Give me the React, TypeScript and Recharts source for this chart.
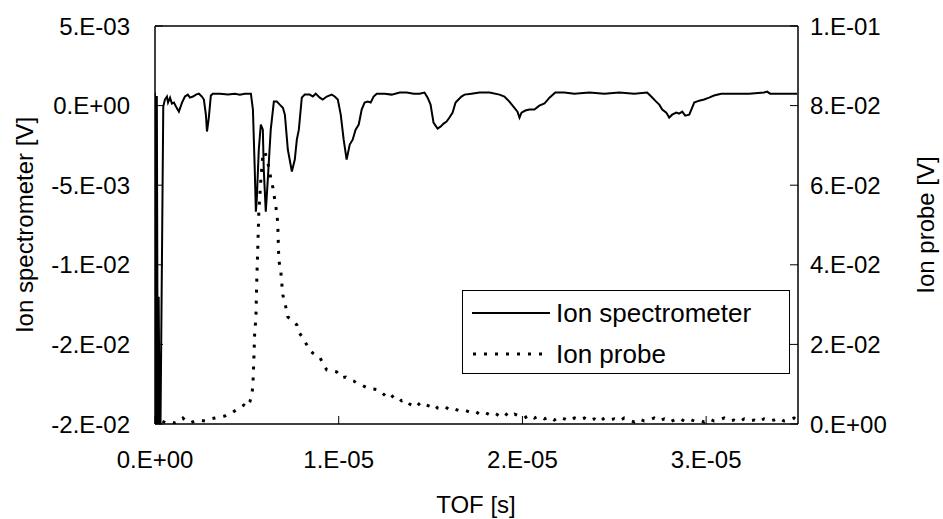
import React from 'react';
import { LineChart, Line, XAxis, YAxis, Legend, ReferenceLine } from 'recharts';

// Ion spectrometer signal: time of flight [µs] and voltage [V]
const specTimeUs = [
  0, 0.05, 0.1, 0.15, 0.2, 0.25, 0.3, 0.45, 0.54, 0.65, 0.71, 0.82, 0.92, 1.03, 1.14, 1.3, 1.47, 1.63, 1.79, 1.9, 2.07, 2.23, 2.39, 2.55,
  2.66, 2.77, 2.83, 2.93, 3.04, 3.15, 3.53, 3.97, 4.35, 4.62, 4.89, 5.22, 5.33, 5.43, 5.49, 5.54, 5.65, 5.76, 5.87, 5.92,
  6.03, 6.14, 6.3, 6.47, 6.63, 6.79, 6.96, 7.07, 7.23, 7.45, 7.61, 7.72, 7.83, 7.99, 8.15, 8.42, 8.59, 8.75, 8.97, 9.13,
  9.35, 9.62, 9.78, 9.95, 10.11, 10.27, 10.43, 10.6, 10.76, 10.92, 11.09, 11.25, 11.41, 11.58, 11.74, 11.9, 12.07, 12.5, 12.88, 13.32,
  13.7, 14.08, 14.4, 14.67, 14.84, 15.0, 15.16, 15.38, 15.54, 15.71, 15.87, 16.03, 16.2, 16.36, 16.52, 16.68, 16.85, 17.23, 17.66, 18.21,
  18.75, 19.02, 19.29, 19.51, 19.73, 19.84, 19.95, 20.16, 20.38, 20.65, 20.92, 21.2, 21.47, 21.79, 22.28, 22.83, 23.64, 24.46, 25.27, 26.09,
  26.79, 27.01, 27.28, 27.45, 27.61, 27.83, 27.99, 28.15, 28.37, 28.53, 28.7, 28.86, 29.08, 29.24, 29.35, 29.62, 29.89, 30.16, 30.43, 30.82,
  31.52, 32.34, 33.15, 33.32, 33.48, 34.24, 34.95,
];
const specVolt = [
  0.0008, -0.02, 0.0006, -0.02, -0.012, -0.02, -0.02, -0.00006, 0.00038, 0.00057, 0.00019, 0.0005, 0.00013, 0.00019, -0.00006, -0.00038, 0.00019, 0.00057, 0.00069, 0.0005, 0.00057, 0.00069, 0.00075, 0.00057,
  0.00038, -0.00057, -0.00163, -0.00075, 0.00063, 0.00075, 0.00075, 0.00069, 0.00075, 0.00069, 0.00075, 0.00075, -0.00025, -0.00402, -0.00666, -0.0059, -0.00276, -0.00119, -0.00151, -0.00402,
  -0.00666, -0.00465, -0.00151, 0.00025, 0.00025, 0.00006, -0.00013, -0.00057, -0.00276, -0.00414, -0.00339, -0.00214, -0.00151, 0.0005, 0.00069, 0.00069, 0.00057, 0.00075, 0.0005, 0.00038,
  0.00057, 0.00069, 0.00057, 0.00038, -0.00057, -0.00214, -0.00339, -0.00245, -0.00214, -0.00151, -0.00119, -0.00025, 0.00019, 0.00025, 0.00019, 0.00057, 0.00075, 0.00075, 0.00069, 0.00082,
  0.00082, 0.00075, 0.00075, 0.00082, 0.0005, 0.00006, -0.00107, -0.00144, -0.00132, -0.00113, -0.001, -0.00075, -0.00044, 0.00019, 0.00038, 0.00057, 0.00069, 0.00075, 0.00082, 0.00082,
  0.00069, 0.00057, 0.00025, -0.00006, -0.00038, -0.00075, -0.00044, -0.00031, -0.00025, -0.00025, 0.0, 0.00013, 0.0005, 0.00082, 0.00082, 0.00075, 0.00082, 0.00075, 0.00082, 0.00075,
  0.00082, 0.00057, 0.00025, 0.00006, -0.00025, -0.00044, -0.00075, -0.00057, -0.00044, -0.0005, -0.00038, -0.00063, -0.00057, -0.00013, 0.00019, 0.00031, 0.00038, 0.0005, 0.00063, 0.00075,
  0.00075, 0.00075, 0.00082, 0.00088, 0.00075, 0.00075, 0.00075,
];

// Ion probe signal: time of flight [µs] and voltage [V]
const probeTimeUs = [
  0, 0.11, 0.22, 0.38, 0.6, 0.82, 1.09, 1.36, 1.52, 1.68, 1.9, 2.17, 2.45, 2.72, 2.99, 3.26, 3.53, 3.8, 3.97, 4.18,
  4.4, 4.62, 4.84, 5.0, 5.16, 5.27, 5.33, 5.38, 5.43, 5.49, 5.54, 5.6, 5.65, 5.76, 5.87, 5.98, 6.14, 6.3, 6.41, 6.52,
  6.63, 6.68, 6.74, 6.85, 6.9, 6.96, 7.12, 7.23, 7.45, 7.72, 7.83, 8.04, 8.26, 8.42, 8.59, 8.8, 8.97, 9.18, 9.35, 9.57,
  9.89, 10.16, 10.38, 10.6, 10.82, 10.98, 11.25, 11.58, 11.9, 12.23, 12.55, 12.77, 12.99, 13.21, 13.42, 13.64, 13.86, 14.08, 14.29, 14.51,
  14.73, 14.95, 15.16, 15.38, 15.6, 15.82, 16.03, 16.3, 16.58, 16.85, 17.12, 17.39, 17.66, 17.93, 18.21, 18.48, 18.75, 19.02, 19.29, 19.57,
  19.84, 20.11, 20.38, 20.65, 20.92, 21.2, 21.47, 21.74, 22.01, 22.28, 22.55, 22.83, 23.1, 23.37, 23.64, 23.91, 24.18, 24.46, 24.73, 25.0,
  25.27, 25.54, 25.82, 26.09, 26.36, 26.63, 26.9, 27.17, 27.45, 27.72, 27.99, 28.26, 28.53, 28.8, 29.08, 29.35, 29.62, 29.89, 30.16, 30.43,
  30.71, 30.98, 31.25, 31.52, 31.79, 32.07, 32.34, 32.61, 32.88, 33.15, 33.42, 33.7, 33.97, 34.24, 34.51, 34.78, 34.95,
];
const probeVolt = [
  0.0015, 0.0035, 0.001, 0.00075, 0.00025, 0.0005, 0.00025, 0.00075, 0.0015, 0.00075, 0.00025, 0.00075, 0.001, 0.00075, 0.00126, 0.0015, 0.00176, 0.00201, 0.00251, 0.00276,
  0.0035, 0.00402, 0.00477, 0.00427, 0.00553, 0.00729, 0.0098, 0.0161, 0.0236, 0.0261, 0.0362, 0.045, 0.053, 0.0613, 0.0676, 0.0684, 0.0658, 0.0618, 0.0596, 0.0563,
  0.053, 0.0505, 0.0412, 0.0382, 0.0354, 0.0324, 0.0294, 0.0269, 0.0261, 0.0249, 0.0231, 0.0216, 0.0199, 0.0186, 0.0178, 0.0171, 0.0168, 0.0148, 0.0136, 0.0134,
  0.0131, 0.0116, 0.0118, 0.0111, 0.0108, 0.0103, 0.0098, 0.009, 0.0088, 0.0085, 0.007, 0.0063, 0.0072, 0.0068, 0.0058, 0.0061, 0.005, 0.0045, 0.0053, 0.0043,
  0.0048, 0.0045, 0.005, 0.004, 0.0038, 0.0043, 0.0035, 0.0038, 0.0033, 0.0035, 0.003, 0.0033, 0.0025, 0.003, 0.0023, 0.0028, 0.002, 0.0028, 0.0018, 0.0025,
  0.002, 0.0015, 0.0023, 0.0015, 0.002, 0.0013, 0.0018, 0.001, 0.0018, 0.0013, 0.00075, 0.0015, 0.001, 0.0015, 0.00075, 0.0013, 0.0005, 0.0015, 0.001, 0.0013,
  0.00075, 0.0015, 0.001, 0.0005, 0.0013, 0.00075, 0.001, 0.0015, 0.00075, 0.0013, 0.0005, 0.001, 0.0015, 0.00075, 0.0013, 0.00075, 0.001, 0.0005, 0.0013, 0.00075,
  0.001, 0.0015, 0.00075, 0.001, 0.0005, 0.0013, 0.00075, 0.001, 0.0005, 0.0013, 0.00075, 0.001, 0.0015, 0.00075, 0.001, 0.0015, 0.001,
];

const xTicks = [0, 10, 20, 30];
const xTickLabels = ['0.E+00', '1.E-05', '2.E-05', '3.E-05'];
const leftTicks = [-0.02, -0.015, -0.01, -0.005, 0, 0.005];
const leftTickLabels = ['-2.E-02', '-2.E-02', '-1.E-02', '-5.E-03', '0.E+00', '5.E-03'];
const rightTicks = [0, 0.02, 0.04, 0.06, 0.08, 0.1];
const rightTickLabels = ['0.E+00', '2.E-02', '4.E-02', '6.E-02', '8.E-02', '1.E-01'];

const seriesNames = ['Ion spectrometer', 'Ion probe'];
const xTitle = 'TOF [s]';
const leftTitle = 'Ion spectrometer [V]';
const rightTitle = 'Ion probe [V]';

const specData = specTimeUs.map((t, i) => ({ t, v: specVolt[i] }));
const probeData = probeTimeUs.map((t, i) => ({ t, v: probeVolt[i] }));

const FONT = "'Liberation Sans', Arial, sans-serif";
const FS = 24;
const DOTS = '3 8';

const lookup = (ticks: number[], labels: string[]) => (v: number) => {
  const i = ticks.findIndex((t) => Math.abs(t - v) < 1e-9);
  return i >= 0 ? labels[i] : '';
};

const LegendBox = () => (
  <svg width={328} height={84} style={{ display: 'block' }}>
    <rect x={0.5} y={0.5} width={327} height={83} fill="#fff" stroke="#000" strokeWidth={1} />
    <line x1={10} y1={23} x2={88} y2={23} stroke="#000" strokeWidth={2} />
    <text x={94} y={23} dy="0.35em" fontFamily={FONT} fontSize={26} fill="#000">{seriesNames[0]}</text>
    <line x1={11} y1={64} x2={88} y2={64} stroke="#000" strokeWidth={3} strokeDasharray={DOTS} />
    <text x={94} y={64} dy="0.35em" fontFamily={FONT} fontSize={26} fill="#000">{seriesNames[1]}</text>
  </svg>
);

export default function App() {
  const tickStyle = { fill: '#000', fontSize: FS, fontFamily: FONT };
  return (
    <div style={{ position: 'absolute', left: 0, top: 0, width: 943, height: 519, background: '#fff' }}>
      <LineChart width={943} height={519} margin={{ top: 26, right: 0, bottom: 0, left: 0 }}>
        <XAxis
          dataKey="t"
          type="number"
          domain={[0, 35]}
          allowDataOverflow
          ticks={xTicks}
          interval={0}
          tickFormatter={lookup(xTicks, xTickLabels)}
          height={95}
          tickSize={-8}
          tickMargin={35}
          tick={tickStyle}
          axisLine={{ stroke: '#000', strokeWidth: 1.5 }}
          tickLine={{ stroke: '#000', strokeWidth: 1 }}
          label={{
            content: () => (
              <text x={476} y={513} textAnchor="middle" fontFamily={FONT} fontSize={FS} fill="#000">{xTitle}</text>
            ),
          }}
        />
        <YAxis
          yAxisId="left"
          type="number"
          domain={[-0.02, 0.005]}
          allowDataOverflow
          ticks={leftTicks}
          interval={0}
          tickFormatter={lookup(leftTicks, leftTickLabels)}
          width={155}
          tickSize={-8}
          tickMargin={33}
          tick={tickStyle}
          axisLine={{ stroke: '#000', strokeWidth: 1.5 }}
          tickLine={{ stroke: '#000', strokeWidth: 1 }}
          label={{
            content: () => (
              <text x={24} y={225} transform="rotate(-90 24 225)" textAnchor="middle" dominantBaseline="central" fontFamily={FONT} fontSize={FS} fill="#000">{leftTitle}</text>
            ),
          }}
        />
        <YAxis
          yAxisId="right"
          orientation="right"
          type="number"
          domain={[0, 0.1]}
          allowDataOverflow
          ticks={rightTicks}
          interval={0}
          tickFormatter={lookup(rightTicks, rightTickLabels)}
          width={145}
          tickSize={-8}
          tickMargin={20}
          tick={tickStyle}
          axisLine={{ stroke: '#000', strokeWidth: 1.5 }}
          tickLine={{ stroke: '#000', strokeWidth: 1 }}
          label={{
            content: () => (
              <text x={925} y={225} transform="rotate(-90 925 225)" textAnchor="middle" dominantBaseline="central" fontFamily={FONT} fontSize={FS} fill="#000">{rightTitle}</text>
            ),
          }}
        />
        <ReferenceLine yAxisId="left" y={0.005} stroke="#000" strokeWidth={1.5} />
        <Line
          yAxisId="left"
          data={specData}
          dataKey="v"
          type="linear"
          stroke="#000"
          strokeWidth={2}
          dot={false}
          isAnimationActive={false}
          name={seriesNames[0]}
        />
        <Line
          yAxisId="right"
          data={probeData}
          dataKey="v"
          type="linear"
          stroke="#000"
          strokeWidth={3}
          strokeDasharray={DOTS}
          dot={false}
          isAnimationActive={false}
          name={seriesNames[1]}
        />
        <Legend
          layout="vertical"
          align="center"
          verticalAlign="middle"
          content={() => <LegendBox />}
          wrapperStyle={{ position: 'absolute', left: 462, top: 290, width: 328, height: 84 }}
        />
      </LineChart>
    </div>
  );
}
